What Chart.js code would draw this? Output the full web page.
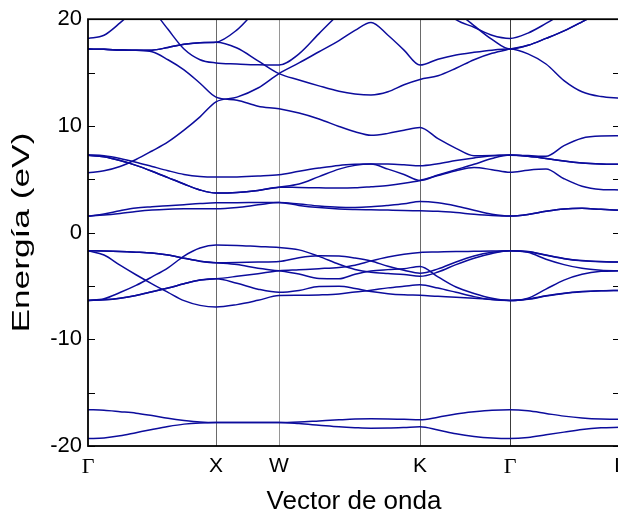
<!DOCTYPE html>
<html>
<head>
<meta charset="utf-8">
<script src="https://cdn.jsdelivr.net/npm/chart.js@4.4.1/dist/chart.umd.min.js"></script>
<style>
  html, body { margin: 0; padding: 0; background: #fff; overflow: hidden; }
  #wrap { position: relative; width: 620px; height: 517px; }
</style>
</head>
<body>
<div id="wrap"><canvas id="bands"></canvas></div>
<script>
// k-path sample points (Γ-X-W-K-Γ-L) and high-symmetry labels
const kGrid = [0, 16, 32, 48, 64, 80, 96, 112, 128, 149, 170, 191, 211, 231, 251, 267, 283, 300, 316, 332,
  350, 368, 386, 404, 422, 440, 458, 476, 494, 513, 532];
const kTicks = [0, 128, 191, 332, 422, 532];
const kLabels = ['Γ', 'X', 'W', 'K', 'Γ', 'L'];
const yTitleText = 'Energía (eV)';
const xTitleText = 'Vector de onda';

// energies (eV) per band at each kGrid point
const bandS1 = [-16.6, -16.65, -16.78, -16.92, -17.15, -17.4, -17.6, -17.75, -17.8, -17.8, -17.8, -17.8,
  -17.75, -17.65, -17.55, -17.48, -17.45, -17.46, -17.5, -17.55, -17.3, -17.0, -16.8, -16.65, -16.6,
  -16.7, -16.95, -17.2, -17.38, -17.48, -17.5];
const bandS2 = [-19.3, -19.25, -19.05, -18.75, -18.45, -18.17, -17.95, -17.84, -17.8, -17.8, -17.8, -17.8,
  -17.9, -18.05, -18.2, -18.28, -18.33, -18.32, -18.27, -18.2, -18.5, -18.85, -19.1, -19.25, -19.3,
  -19.2, -18.95, -18.7, -18.45, -18.3, -18.25];

const bandVa = [-6.36, -6.2, -5.62, -4.95, -4.15, -3.3, -2.2, -1.45, -1.17, -1.2, -1.3, -1.39,
  -1.62, -2.23, -2.97, -3.45, -3.72, -3.84, -3.93, -4.1, -3.7, -3.0, -2.4, -1.95, -1.7,
  -1.78, -2.1, -2.42, -2.62, -2.72, -2.76];
const bandVb = [-1.7, -1.72, -1.76, -1.83, -1.92, -2.1, -2.4, -2.68, -2.82, -2.8, -2.75, -2.7,
  -2.35, -2.18, -2.2, -2.38, -2.66, -3.15, -3.52, -3.8, -3.4, -2.75, -2.2, -1.85, -1.7,
  -1.8, -2.12, -2.45, -2.65, -2.74, -2.76];
const bandVc = [-6.36, -6.3, -6.15, -5.9, -5.55, -5.2, -4.8, -4.45, -4.33, -4.1, -3.85, -3.58,
  -3.48, -3.38, -3.26, -3.05, -2.65, -2.28, -2.02, -1.86, -1.82, -1.78, -1.75, -1.72, -1.7,
  -1.85, -2.5, -3.0, -3.35, -3.52, -3.58];
const bandVd = [-1.7, -1.72, -1.76, -1.83, -1.92, -2.1, -2.4, -2.68, -2.82, -3.0, -3.35, -3.58,
  -3.88, -4.3, -4.32, -3.9, -3.6, -3.47, -3.38, -3.17, -4.15, -5.1, -5.7, -6.15, -6.36,
  -6.15, -5.3, -4.45, -3.9, -3.63, -3.58];
const bandVe = [-6.36, -6.3, -6.15, -5.9, -5.55, -5.2, -4.8, -4.45, -4.33, -4.75, -5.3, -5.6,
  -5.42, -5.05, -5.03, -5.23, -5.52, -5.72, -5.83, -5.88, -5.97, -6.05, -6.15, -6.28, -6.36,
  -6.25, -5.95, -5.7, -5.55, -5.46, -5.42];
const bandVf = [-1.7, -2.1, -3.05, -3.95, -4.8, -5.6, -6.38, -6.82, -6.98, -6.75, -6.35, -5.9,
  -5.88, -5.84, -5.75, -5.56, -5.4, -5.18, -5.03, -4.89, -5.2, -5.6, -6.0, -6.28, -6.36,
  -6.22, -5.92, -5.68, -5.53, -5.45, -5.42];

const bandC1 = [1.55, 1.75, 2.05, 2.3, 2.42, 2.52, 2.62, 2.72, 2.79, 2.8, 2.82, 2.83,
  2.68, 2.5, 2.38, 2.36, 2.42, 2.55, 2.7, 2.92, 2.8, 2.5, 2.1, 1.72, 1.55,
  1.7, 2.0, 2.22, 2.28, 2.18, 2.1];
const bandC2 = [1.55, 1.65, 1.8, 1.98, 2.12, 2.2, 2.24, 2.24, 2.23, 2.35, 2.6, 2.83,
  2.55, 2.35, 2.22, 2.17, 2.14, 2.11, 2.08, 2.04, 2.0, 1.88, 1.72, 1.6, 1.55,
  1.7, 2.0, 2.22, 2.28, 2.18, 2.1];

const bandMA = [7.3, 7.2, 6.95, 6.6, 6.2, 5.8, 5.45, 5.25, 5.2, 5.22, 5.3, 5.42,
  5.75, 6.05, 6.3, 6.4, 6.44, 6.42, 6.35, 6.26, 6.45, 6.75, 7.0, 7.2, 7.27,
  7.15, 6.95, 6.7, 6.52, 6.43, 6.4];
const bandMB = [7.26, 7.1, 6.75, 6.3, 5.75, 5.15, 4.55, 4.0, 3.7, 3.75, 3.95, 4.26,
  4.55, 5.25, 5.95, 6.3, 6.42, 5.95, 5.45, 4.89, 5.4, 5.9, 6.4, 6.95, 7.27,
  7.15, 6.95, 6.7, 6.52, 6.43, 6.4];
const bandMC = [7.26, 7.1, 6.75, 6.3, 5.75, 5.15, 4.55, 4.0, 3.7, 3.75, 3.95, 4.26,
  4.23, 4.2, 4.17, 4.2, 4.3, 4.42, 4.62, 4.89, 5.35, 5.8, 6.1, 5.9, 5.65,
  5.85, 5.95, 5.05, 4.35, 4.05, 4.0];
const bandMD = [5.6, 5.8, 6.2, 6.85, 7.65, 8.5, 9.6, 10.85, 12.25, 12.7, 13.55, 14.9,
  15.9, 16.95, 18.0, 18.95, 19.7, 18.5, 17.1, 15.7, 16.25, 16.65, 16.9, 17.1, 17.2,
  16.75, 15.8, 14.25, 13.2, 12.75, 12.6];
const bandME = [17.2, 17.18, 17.12, 17.08, 16.95, 16.2, 15.25, 14.0, 12.7, 12.4, 11.85, 11.6,
  11.2, 10.65, 9.95, 9.45, 9.12, 9.3, 9.6, 9.85, 8.8, 7.9, 7.2, 7.22, 7.26,
  7.22, 7.15, 8.15, 8.85, 9.05, 9.07];

const bandUA = [17.2, 17.18, 17.12, 17.08, 17.1, 17.35, 17.65, 17.8, 17.85, 17.3, 16.1, 14.9,
  14.3, 13.75, 13.25, 13.0, 12.9, 13.2, 13.85, 14.35, 14.7, 15.4, 16.2, 16.8, 17.2,
  17.55, 18.2, 18.9, 19.75, 20.7, 21.5];
const bandUB = [17.2, 17.18, 17.12, 17.08, 17.1, 17.35, 17.65, 17.8, 17.85, 19.0, 21.0, 22.5,
  23, 23, 23, 23, 23, 23, 23, 23, 22.5, 20.8, 19.4, 18.1, 17.2,
  17.55, 18.2, 18.9, 19.75, 20.7, 21.5];
const bandU1 = [18.2, 18.5, 19.65, 21.0, 22.3, 23.3, 24, 24, 24, 24, 24, 24,
  24, 24, 24, 24, 24, 24, 24, 24, 21.5, 19.95, 19.25, 18.5, 18.2,
  18.7, 19.6, 20.6, 21.5, 22.2, 22.6];
const bandU2 = [25, 24.8, 24, 22.8, 21.0, 19.05, 17.2, 16.2, 15.9, 15.8, 15.72, 15.7,
  16.75, 18.65, 20.5, 21.8, 23, 23.5, 23.5, 23.5, 23.5, 23.5, 23.5, 23.5, 23.5,
  23.5, 23.5, 23.5, 23.5, 23.5, 23.5];

const bands = [bandS1, bandS2, bandVa, bandVb, bandVc, bandVd, bandVe, bandVf, bandC1, bandC2,
  bandMA, bandMB, bandMC, bandMD, bandME, bandUA, bandUB, bandU1, bandU2];

const lineColor = '#0c0c9c';
const symLineColors = ['rgba(0,0,0,0)', '#6a6a6a', '#969696', '#6a6a6a', '#3c3c3c', 'rgba(0,0,0,0)'];

Chart.defaults.font.family = "'Liberation Sans', Arial, sans-serif";
Chart.defaults.color = '#000';

// frame + inward tick marks on both sides
const frameAndTicks = {
  id: 'frameAndTicks',
  afterDatasetsDraw(chart) {
    const { ctx, chartArea: a } = chart;
    const y = chart.scales.y;
    ctx.save();
    ctx.strokeStyle = '#000';
    ctx.lineWidth = 1;
    for (let v = -20; v <= 20; v += 5) {
      const py = Math.round(y.getPixelForValue(v)) + 0.5;
      ctx.beginPath();
      ctx.moveTo(a.left, py);
      ctx.lineTo(a.left + 7, py);
      ctx.moveTo(a.right, py);
      ctx.lineTo(a.right - 7, py);
      ctx.stroke();
    }
    ctx.lineWidth = 1.8;
    ctx.strokeRect(a.left, a.top, a.right - a.left, a.bottom - a.top);
    ctx.restore();
  }
};

// y title: the reference draws it stretched along its length
const yTitle = {
  id: 'yTitle',
  afterDraw(chart) {
    const { ctx, chartArea: a } = chart;
    ctx.save();
    ctx.font = "23px 'Liberation Sans', Arial, sans-serif";
    ctx.fillStyle = '#000';
    ctx.textAlign = 'center';
    ctx.textBaseline = 'middle';
    ctx.translate(23, (a.top + a.bottom) / 2);
    ctx.rotate(-Math.PI / 2);
    const w = ctx.measureText(yTitleText).width;
    ctx.scale(200 / w, 1);
    ctx.fillText(yTitleText, 0, 0);
    ctx.restore();
  }
};

new Chart(document.getElementById('bands'), {
  type: 'line',
  data: {
    datasets: bands.map(b => ({
      data: kGrid.map((k, i) => ({ x: k, y: b[i] })),
      borderColor: lineColor,
      borderWidth: 1.5,
      pointRadius: 0,
      fill: false,
      cubicInterpolationMode: 'monotone'
    }))
  },
  options: {
    responsive: true,
    maintainAspectRatio: false,
    animation: false,
    layout: { padding: { top: 19, right: 0, left: 0, bottom: 0 } },
    plugins: { legend: { display: false }, tooltip: { enabled: false } },
    scales: {
      x: {
        type: 'linear',
        min: 0,
        max: 532,
        afterBuildTicks: s => { s.ticks = kTicks.map(v => ({ value: v })); },
        afterFit: s => { s.height = 71; s.paddingLeft = 0; s.paddingRight = 0; },
        ticks: {
          autoSkip: false,
          maxRotation: 0,
          padding: 8,
          callback: (v, i) => kLabels[i],
          font: ctx => (kLabels[ctx.index] === 'Γ'
            ? { family: "'Liberation Serif', 'Times New Roman', serif", size: 22 }
            : { size: 21 })
        },
        grid: {
          drawTicks: false,
          lineWidth: 1,
          color: ctx => symLineColors[ctx.index]
        },
        border: { display: false },
        title: {
          display: true,
          text: xTitleText,
          font: { size: 26 },
          padding: { top: 4, bottom: 0 }
        }
      },
      y: {
        min: -20,
        max: 20,
        afterFit: s => { s.width = 88; },
        ticks: { stepSize: 10, padding: 6, font: { size: 22 } },
        grid: { display: false, drawTicks: false },
        border: { display: false },
        title: { display: false }
      }
    }
  },
  plugins: [frameAndTicks, yTitle]
});
</script>
</body>
</html>
